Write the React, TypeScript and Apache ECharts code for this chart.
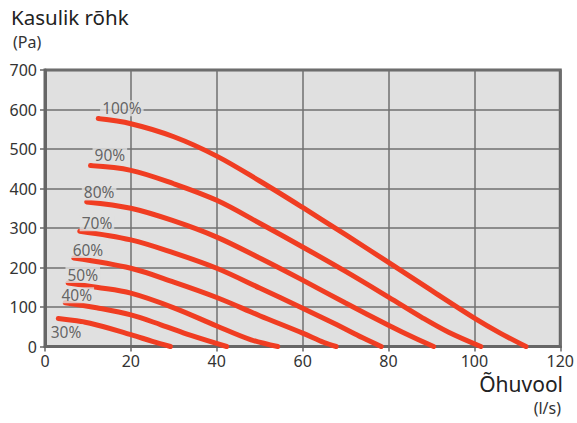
import React, { useEffect, useRef } from "react";
import * as echarts from "echarts";

const speeds = ["100%", "90%", "80%", "70%", "60%", "50%", "40%", "30%"];

const curve100 = [[12.4, 577], [20, 564], [30, 531], [40, 482], [50, 419], [60, 352], [70, 283], [80, 213], [90, 142], [100, 72], [106, 34], [112, 0]];
const curve90 = [[10.6, 458], [20, 446], [30, 412], [40, 370], [50, 312], [60, 252], [70, 190], [80, 125], [88, 72], [94, 36], [101.5, 0]];
const curve80 = [[9.7, 366], [20, 350], [30, 318], [40, 277], [50, 224], [60, 168], [70, 110], [80, 54], [86, 22], [90.5, 0]];
const curve70 = [[8.1, 292], [20, 270], [30, 237], [40, 198], [50, 148], [60, 97], [68, 55], [74, 22], [78.3, 0]];
const curve60 = [[6.7, 224], [20, 198], [30, 163], [40, 124], [50, 78], [60, 34], [65, 10], [67.8, 0]];
const curve50 = [[5.4, 161], [12, 150], [20, 135], [30, 98], [40, 52], [48, 17], [54.2, 0]];
const curve40 = [[4.7, 111], [12, 98], [20, 80], [27, 55], [34, 28], [42.3, 0]];
const curve30 = [[3.1, 71], [10.5, 59], [20, 30], [25, 13], [29.2, 0]];

const curves = [curve100, curve90, curve80, curve70, curve60, curve50, curve40, curve30];

const labelX = [17.9, 15.1, 12.6, 12.1, 10.0, 8.8, 7.4, 4.9];
const labelY = [603, 484, 390, 312, 244, 181, 130, 36];

const xTicks = [0, 20, 40, 60, 80, 100, 120];
const yTicks = [0, 100, 200, 300, 400, 500, 600, 700];

const FONT = "'Noto Sans', 'Open Sans', sans-serif";

export default function App() {
  const ref = useRef<HTMLDivElement>(null);
  useEffect(() => {
    if (!ref.current) return;
    const chart = echarts.init(ref.current, undefined, { renderer: "svg" });
    const lineSeries = curves.map((c, i) => ({
      type: "line",
      name: speeds[i],
      data: c,
      smooth: 0.35,
      showSymbol: false,
      symbol: "none",
      lineStyle: { color: "#f03d22", width: 5, cap: "round" },
      z: 3,
    }));
    const labelSeries = {
      type: "scatter",
      symbolSize: 0,
      data: speeds.map((s, i) => ({ value: [labelX[i], labelY[i]], name: s })),
      label: {
        show: true,
        position: "inside",
        formatter: (p: any) => p.name,
        fontSize: 15.5,
        fontFamily: FONT,
        color: "#444",
        backgroundColor: "#e0e0e0",
        padding: [0, 2, 0, 2],
      },
      z: 4,
    };
    chart.setOption({
      animation: false,
      grid: {
        left: 45,
        right: 16,
        top: 70,
        bottom: 76.5,
        show: true,
        backgroundColor: "#e0e0e0",
        borderColor: "#666",
        borderWidth: 3,
      },
      xAxis: {
        type: "value",
        min: xTicks[0],
        max: xTicks[xTicks.length - 1],
        interval: 20,
        axisLine: { show: true, lineStyle: { color: "#666", width: 3 } },
        axisTick: { show: true, length: 5, lineStyle: { color: "#666", width: 1.5 } },
        axisLabel: { fontSize: 16, color: "#333", fontFamily: FONT, margin: 6 },
        splitLine: { show: true, lineStyle: { color: "#707070", width: 1.5 } },
      },
      yAxis: {
        type: "value",
        min: yTicks[0],
        max: yTicks[yTicks.length - 1],
        interval: 100,
        axisLine: { show: true, lineStyle: { color: "#666", width: 3 } },
        axisTick: { show: true, length: 5, lineStyle: { color: "#666", width: 1.5 } },
        axisLabel: { fontSize: 16, color: "#333", fontFamily: FONT, margin: 8 },
        splitLine: { show: true, lineStyle: { color: "#707070", width: 1.5 } },
      },
      graphic: [
        { type: "text", left: 11, top: 6, style: { text: "Kasulik rõhk", fontSize: 20.5, fill: "#222", fontFamily: FONT } },
        { type: "text", left: 13, top: 34, style: { text: "(Pa)", fontSize: 16, fill: "#333", fontFamily: FONT } },
        { type: "text", right: 14, top: 373, style: { text: "Õhuvool", fontSize: 21, fill: "#222", fontFamily: FONT } },
        { type: "text", right: 16, top: 400, style: { text: "(l/s)", fontSize: 16, fill: "#333", fontFamily: FONT } },
      ],
      series: [...lineSeries, labelSeries],
    });
    return () => chart.dispose();
  }, []);
  return <div ref={ref} style={{ width: 577, height: 423, position: "absolute", left: 0, top: 0 }} />;
}
